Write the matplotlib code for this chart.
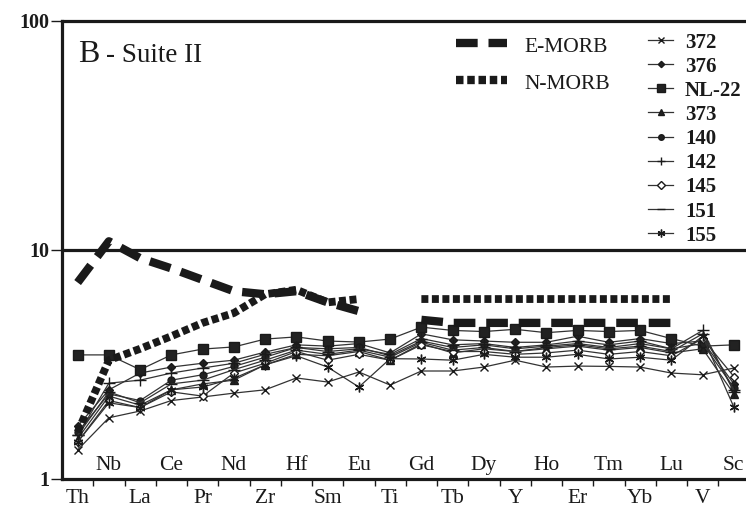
"""Primitive-mantle normalised multi-element plot, Suite II samples vs MORB."""

import matplotlib

matplotlib.use("Agg")
import matplotlib.pyplot as plt
import numpy as np

plt.rcParams["font.family"] = ["Liberation Serif", "DejaVu Serif"]

elements = ["Th", "Nb", "La", "Ce", "Pr", "Nd", "Zr", "Hf", "Sm", "Eu", "Ti",
            "Gd", "Tb", "Dy", "Y", "Ho", "Er", "Tm", "Yb", "Lu", "V", "Sc"]

nan = np.nan
e_morb = [7.2, 10.9, 9.2, 8.3, 7.4, 6.6, 6.4, 6.6, 5.9, 5.4, nan,
          4.95, 4.8, 4.8, 4.8, 4.8, 4.8, 4.8, 4.8, 4.8, nan, nan]
n_morb = [1.6, 3.3, 3.7, 4.2, 4.8, 5.3, 6.4, 6.7, 5.9, 6.1, nan,
          6.1, 6.1, 6.1, 6.1, 6.1, 6.1, 6.1, 6.1, 6.1, nan, nan]

s372 = [1.34, 1.85, 1.98, 2.2, 2.28, 2.37, 2.45, 2.76, 2.65, 2.93, 2.57,
        2.96, 2.96, 3.08, 3.3, 3.08, 3.11, 3.1, 3.08, 2.9, 2.85, 3.05]
s376 = [1.7, 2.45, 2.9, 3.08, 3.2, 3.3, 3.58, 3.85, 3.8, 3.9, 3.55,
        4.3, 4.05, 4.0, 3.95, 3.95, 4.2, 3.95, 4.1, 3.9, 4.0, 2.6]
nl22 = [3.48, 3.48, 3.0, 3.48, 3.69, 3.77, 4.08, 4.17, 4.0, 3.96, 4.08,
        4.6, 4.45, 4.4, 4.5, 4.35, 4.45, 4.4, 4.45, 4.1, 3.8, 3.85]
s373 = [1.5, 2.3, 2.1, 2.45, 2.6, 2.7, 3.15, 3.5, 3.45, 3.6, 3.3,
        3.9, 3.55, 3.7, 3.6, 3.7, 3.8, 3.65, 3.75, 3.55, 3.7, 2.35]
s140 = [1.6, 2.35, 2.2, 2.7, 2.85, 3.1, 3.4, 3.75, 3.7, 3.75, 3.45,
        4.0, 3.75, 3.85, 3.7, 3.8, 3.9, 3.75, 3.9, 3.7, 3.9, 2.5]
s142 = [1.55, 2.62, 2.7, 2.9, 3.05, 3.2, 3.5, 3.75, 3.6, 3.7, 3.5,
        4.1, 3.85, 3.9, 3.75, 3.85, 4.0, 3.85, 4.0, 3.7, 4.45, 2.4]
s145 = [1.45, 2.2, 2.05, 2.4, 2.3, 2.9, 3.2, 3.6, 3.3, 3.5, 3.3,
        3.85, 3.6, 3.6, 3.5, 3.55, 3.65, 3.5, 3.6, 3.45, 4.1, 2.8]
s151 = [1.55, 2.4, 2.15, 2.6, 2.7, 3.0, 3.3, 3.65, 3.5, 3.65, 3.4,
        3.95, 3.65, 3.75, 3.6, 3.75, 3.85, 3.7, 3.8, 3.6, 4.3, 2.45]
s155 = [1.45, 2.15, 2.05, 2.45, 2.52, 2.75, 3.15, 3.45, 3.08, 2.52, 3.35,
        3.34, 3.3, 3.5, 3.4, 3.4, 3.5, 3.34, 3.4, 3.3, 4.2, 2.06]

sample_names = ["372", "376", "NL-22", "373", "140", "142", "145", "151", "155"]
sample_values = [s372, s376, nl22, s373, s140, s142, s145, s151, s155]

# marker, size, face colour
marker_styles = [
    ("x", 5.5, "#222222"),
    ("D", 4, "#222222"),
    ("s", 6.5, "#222222"),
    ("^", 5.5, "#222222"),
    ("o", 5, "#222222"),
    ("+", 8, "#222222"),
    ("D", 4.5, "white"),
    ("_", 8, "#222222"),
    ((6, 2, 0), 7, "#222222"),
]

INK = "#1a1a1a"
W, H = 746, 507
ax_left, ax_top, ax_bottom = 62, 20.7, 479
step = 31.25
ax_width = step * len(elements)

fig = plt.figure(figsize=(W / 100, H / 100), dpi=100)
ax = fig.add_axes([ax_left / W, (H - ax_bottom) / H,
                   ax_width / W, (ax_bottom - ax_top) / H])

x = np.arange(len(elements))

for vals, name, (mk, ms, mfc) in zip(sample_values, sample_names, marker_styles):
    ax.plot(x, vals, color="#333333", lw=0.9, marker=mk, ms=ms,
            mfc=mfc, mec=INK, mew=1.0, zorder=3)

ax.plot(x, e_morb, color=INK, lw=6.0, linestyle=(0, (2.6, 1.3)),
        solid_capstyle="butt", zorder=4)
ax.plot(x, n_morb, color=INK, lw=5.6, linestyle=(0, (0.9, 0.45)),
        solid_capstyle="butt", zorder=4)

ax.set_yscale("log")
ax.set_ylim(1, 100)
ax.set_xlim(-0.5, len(elements) - 0.5)
ax.axhline(10, color=INK, lw=2.3, zorder=2)

ax.set_yticks([1, 10, 100])
ax.set_yticklabels(["1", "10", "100"], fontsize=14.5, fontweight="bold")
ax.yaxis.set_minor_locator(matplotlib.ticker.NullLocator())
ax.tick_params(axis="y", direction="out", length=8, width=1, pad=1, colors=INK)

ax.set_xticks(x[:-1] + 0.5)
ax.set_xticklabels([])
ax.tick_params(axis="x", direction="out", length=5, width=1, colors=INK)

for side in ["left", "bottom", "top", "right"]:
    ax.spines[side].set_linewidth(2.3)
    ax.spines[side].set_color(INK)

# element names alternate between a row under the axis and a row inside it
xt = ax.get_xaxis_transform()
for i, el in enumerate(elements):
    y_base = -0.0524 if i % 2 == 0 else 0.0196
    ax.text(i, y_base, el, transform=xt, ha="center", va="baseline",
            fontsize=15.5, color=INK, clip_on=False)

# panel title
fig.text(78 / W, (H - 62) / H, "B", fontsize=23, color=INK, va="baseline")
fig.text(106 / W, (H - 62) / H, "- Suite II", fontsize=19.5, color=INK,
         va="baseline")


def px_to_axes(px, py):
    return (px - ax_left) / ax_width, (ax_bottom - py) / (ax_bottom - ax_top)


# MORB key
for label, ypx, ls in [("E-MORB", 43, (0, (2.6, 1.3))),
                       ("N-MORB", 80, (0, (0.9, 0.45)))]:
    x0, y0 = px_to_axes(456, ypx)
    x1, _ = px_to_axes(507, ypx)
    ax.plot([x0, x1], [y0, y0], transform=ax.transAxes, color=INK, lw=6.0,
            linestyle=ls, solid_capstyle="butt", clip_on=False)
    tx, ty = px_to_axes(524, ypx + 9)
    ax.text(tx, ty, label, transform=ax.transAxes, fontsize=15.5, color=INK,
            va="baseline")

# sample key
for k, (name, (mk, ms, mfc)) in enumerate(zip(sample_names, marker_styles)):
    ypx = 40 + 24.15 * k
    x0, y0 = px_to_axes(648, ypx)
    x1, _ = px_to_axes(673, ypx)
    ax.plot([x0, x1], [y0, y0], transform=ax.transAxes, color="#333333",
            lw=0.9, clip_on=False)
    ax.plot([(x0 + x1) / 2], [y0], transform=ax.transAxes, marker=mk,
            ms=ms * 0.8, mfc=mfc, mec=INK, mew=1.0, clip_on=False)
    tx, ty = px_to_axes(685, ypx + 7.5)
    ax.text(tx, ty, name, transform=ax.transAxes, fontsize=15,
            fontweight="bold", color=INK, va="baseline")

fig.savefig("out.png", dpi=100)
